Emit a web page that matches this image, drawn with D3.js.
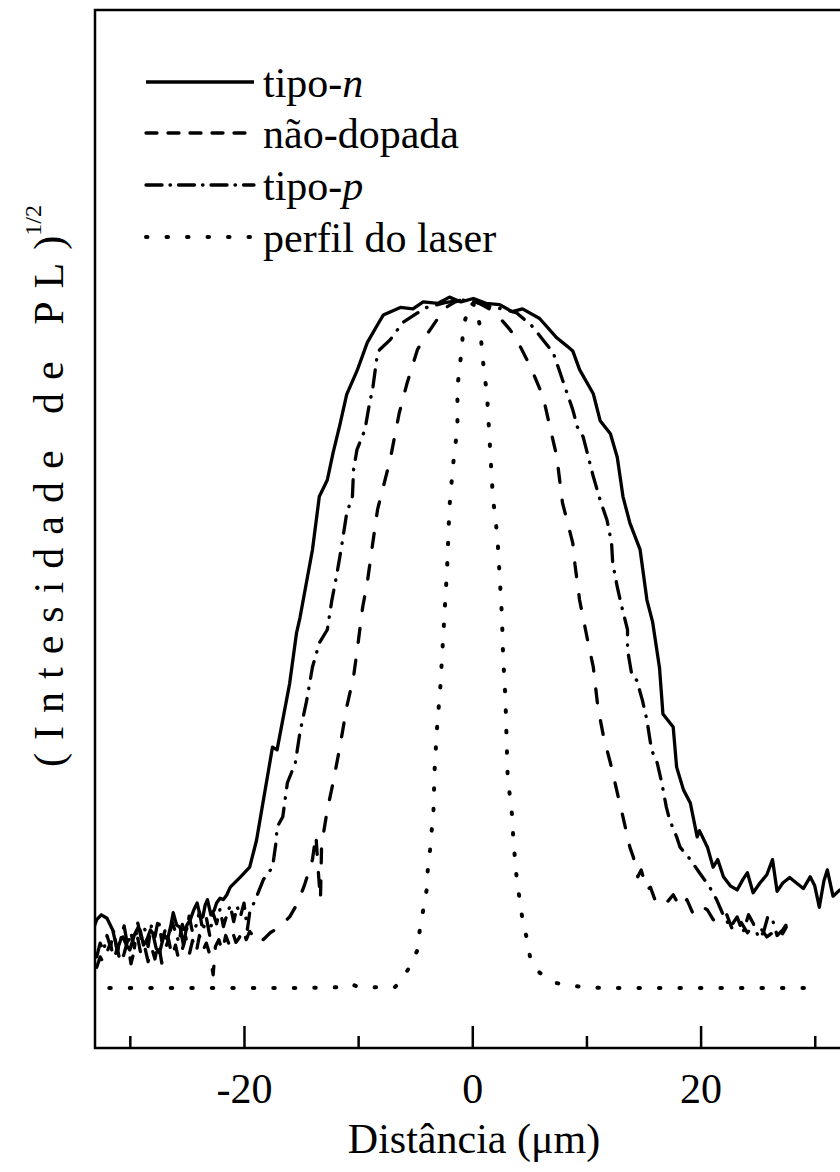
<!DOCTYPE html>
<html lang="pt">
<head>
<meta charset="UTF-8">
<title>Perfil de PL</title>
<script src="https://cdn.jsdelivr.net/npm/d3@7"></script>
<style>
  body { margin: 0; padding: 0; background: #fff; }
  svg { display: block; font-family: "Liberation Serif", "Times New Roman", serif; }
</style>
</head>
<body>
<svg id="chart" width="840" height="1172"></svg>
<script>
// distância (µm), intensidade^1/2 (u.a., 100 = topo)
const tipoN = [
  [-33.1, 9.0], [-32.9, 9.9], [-32.5, 10.6], [-32.0, 10.1], [-31.5, 8.4], [-31.1, 5.5], [-30.8, 7.0],
  [-30.6, 7.4], [-30.3, 6.2], [-30.0, 5.5], [-29.6, 7.7], [-29.3, 8.7], [-29.1, 8.4], [-28.8, 6.2],
  [-28.5, 7.0], [-28.2, 8.4], [-28.0, 8.0], [-27.7, 5.8], [-27.4, 5.1], [-27.0, 7.7], [-26.7, 7.0],
  [-26.4, 9.1], [-26.2, 10.9], [-25.9, 9.1], [-25.6, 8.8], [-25.3, 6.2], [-25.0, 9.1], [-24.7, 9.9],
  [-24.4, 11.3], [-24.1, 12.3], [-23.8, 10.1], [-23.6, 10.3], [-23.4, 12.0], [-23.2, 12.8], [-22.9, 10.6],
  [-22.6, 11.3], [-22.4, 12.3], [-22.1, 13.0], [-21.8, 12.8], [-21.5, 13.5], [-21.2, 14.6], [-20.3, 16.1],
  [-19.5, 17.5], [-18.9, 21.4], [-18.3, 27.2], [-17.5, 34.9], [-17.1, 34.5], [-16.0, 44.1], [-15.4, 51.4],
  [-15.1, 53.6], [-14.0, 63.5], [-13.4, 71.2], [-12.7, 73.6], [-12.2, 77.5], [-11.6, 81.6], [-11.0, 86.0],
  [-10.1, 89.4], [-9.2, 93.5], [-8.3, 96.1], [-7.8, 97.5], [-6.3, 98.6], [-5.2, 98.4], [-4.3, 99.4],
  [-3.0, 99.2], [-2.0, 100.1], [-1.0, 99.4], [0.1, 99.9], [1.2, 99.2], [2.4, 99.0], [3.5, 98.0],
  [4.4, 98.4], [5.9, 97.0], [7.4, 94.2], [8.3, 93.0], [8.8, 92.3], [9.4, 89.6], [10.6, 86.1], [11.2, 82.2],
  [12.1, 80.3], [12.7, 76.9], [13.2, 71.2], [13.8, 67.4], [14.7, 63.5], [15.3, 56.2], [15.8, 53.0],
  [16.4, 46.4], [16.7, 39.7], [17.6, 37.8], [17.9, 32.0], [18.5, 28.7], [19.1, 26.8], [19.7, 21.9],
  [19.9, 22.8], [20.6, 20.4], [21.1, 17.5], [21.5, 18.6], [22.0, 16.1], [22.6, 14.8], [23.2, 14.2],
  [23.7, 15.7], [24.1, 16.7], [24.6, 13.8], [25.2, 15.2], [25.8, 16.4], [26.3, 18.6], [26.7, 14.0],
  [27.2, 15.2], [27.8, 16.0], [28.4, 15.2], [29.0, 14.4], [29.6, 16.1], [30.0, 14.8], [30.4, 11.7],
  [30.8, 15.5], [31.1, 17.1], [31.6, 13.3], [32.2, 14.2]
];

const naoDopada = [
  [-32.9, 3.0], [-32.6, 4.5], [-32.3, 3.6], [-32.0, 5.2], [-31.7, 6.5], [-31.4, 4.0], [-31.1, 5.8],
  [-30.8, 3.4], [-30.5, 5.0], [-30.2, 6.8], [-29.9, 3.5], [-29.6, 5.5], [-29.3, 7.2], [-29.0, 4.6],
  [-28.7, 6.0], [-28.4, 3.8], [-28.1, 5.9], [-27.8, 4.2], [-27.5, 6.6], [-27.2, 3.6], [-26.9, 5.7],
  [-26.6, 7.0], [-26.3, 4.5], [-26.0, 6.2], [-25.7, 4.0], [-25.4, 5.6], [-25.1, 7.4], [-24.8, 4.8],
  [-24.5, 6.9], [-24.2, 5.0], [-23.9, 7.6], [-23.6, 5.4], [-23.3, 6.5], [-23.0, 4.9], [-22.7, 1.9],
  [-22.5, 6.0], [-22.2, 7.0], [-21.9, 5.3], [-21.6, 7.6], [-21.3, 6.3], [-21.0, 8.1], [-20.7, 6.6],
  [-20.4, 7.3], [-20.1, 8.6], [-19.8, 7.0], [-19.5, 8.2], [-19.2, 7.5], [-18.9, 8.0], [-18.6, 7.2],
  [-18.3, 7.0], [-17.7, 8.0], [-16.9, 8.8], [-16.0, 10.3], [-15.3, 12.3], [-14.7, 14.9], [-14.0, 18.6],
  [-13.7, 22.2], [-13.5, 17.1], [-13.3, 12.8], [-13.2, 20.7], [-12.7, 25.8], [-12.2, 29.7], [-11.6, 34.9],
  [-11.0, 40.7], [-10.4, 45.1], [-10.0, 50.0], [-9.6, 55.2], [-9.2, 58.7], [-8.8, 63.5], [-8.3, 69.3],
  [-7.2, 76.5], [-6.4, 83.3], [-5.7, 87.7], [-4.8, 92.5], [-4.3, 93.9], [-3.1, 96.8], [-2.6, 98.3],
  [-1.5, 99.4], [-0.6, 99.9], [0.4, 99.4], [1.6, 98.3], [2.4, 97.1], [3.3, 95.4], [3.9, 93.9], [5.1, 90.0],
  [6.2, 85.7], [6.8, 81.3], [7.4, 77.0], [7.9, 70.3], [8.8, 64.5], [9.0, 61.3], [9.4, 56.2], [10.1, 50.4],
  [10.6, 46.5], [11.0, 40.7], [11.5, 36.4], [12.1, 32.6], [12.7, 28.3], [13.2, 24.8], [13.8, 20.4],
  [14.1, 19.0], [14.5, 16.1], [14.8, 17.1], [15.3, 14.2], [15.6, 14.6], [16.0, 12.8], [16.4, 13.2],
  [17.0, 12.3], [17.6, 13.5], [18.2, 11.7], [18.8, 12.8], [19.3, 10.9], [19.9, 12.0], [20.6, 11.3],
  [21.1, 9.9], [21.7, 9.4], [22.3, 10.6], [22.8, 8.4], [23.4, 9.9], [24.1, 8.0], [24.6, 9.1], [25.2, 8.8],
  [25.8, 7.4], [26.3, 8.0], [26.9, 7.0], [27.5, 8.8]
];

const tipoP = [
  [-32.9, 4.5], [-32.6, 6.5], [-32.3, 5.4], [-32.0, 7.6], [-31.7, 6.0], [-31.4, 8.3], [-31.1, 5.2],
  [-30.8, 7.0], [-30.5, 9.0], [-30.2, 6.2], [-29.9, 8.0], [-29.6, 5.8], [-29.3, 9.4], [-29.0, 7.2],
  [-28.7, 8.6], [-28.4, 6.0], [-28.1, 9.1], [-27.8, 7.4], [-27.5, 10.0], [-27.2, 6.8], [-26.9, 8.4],
  [-26.6, 7.0], [-26.3, 9.6], [-26.0, 8.1], [-25.7, 6.6], [-25.4, 9.2], [-25.1, 7.8], [-24.8, 10.4],
  [-24.5, 8.0], [-24.2, 9.0], [-23.9, 11.0], [-23.6, 8.3], [-23.3, 10.2], [-23.0, 7.6], [-22.7, 10.8],
  [-22.4, 9.3], [-22.1, 11.4], [-21.8, 8.9], [-21.5, 10.6], [-21.2, 12.0], [-20.9, 9.6], [-20.6, 11.8],
  [-20.3, 10.4], [-20.0, 12.3], [-19.7, 8.5], [-19.5, 10.9], [-18.9, 13.2], [-18.3, 15.7], [-17.5, 17.5],
  [-17.2, 21.0], [-17.1, 23.3], [-16.6, 24.8], [-16.2, 29.7], [-15.5, 32.6], [-15.1, 37.0], [-14.5, 41.7],
  [-14.0, 46.5], [-13.4, 50.0], [-12.7, 51.9], [-12.3, 56.2], [-11.9, 59.6], [-11.6, 62.5], [-11.4, 64.5],
  [-11.0, 68.8], [-10.5, 71.2], [-10.4, 75.1], [-10.1, 78.0], [-9.4, 80.9], [-9.1, 83.8], [-8.7, 87.1],
  [-8.3, 92.0], [-8.1, 92.5], [-7.2, 93.9], [-6.1, 96.4], [-4.8, 97.8], [-4.0, 98.6], [-2.4, 99.3],
  [-0.9, 99.7], [0.2, 99.4], [1.6, 98.7], [2.9, 98.3], [3.9, 97.8], [5.3, 95.8], [6.2, 93.9], [7.1, 92.0],
  [7.7, 89.1], [8.3, 86.2], [8.8, 83.8], [9.2, 81.3], [9.7, 79.9], [10.0, 78.0], [10.6, 74.1], [11.2, 70.7],
  [11.8, 67.8], [12.2, 64.5], [12.3, 61.6], [12.7, 58.1], [13.1, 55.2], [13.6, 51.9], [13.6, 49.0],
  [14.0, 45.1], [14.4, 44.6], [14.9, 41.7], [15.3, 38.8], [15.7, 34.5], [16.2, 32.6], [16.6, 29.7],
  [17.0, 26.2], [17.3, 24.3], [17.9, 21.9], [18.2, 20.4], [19.1, 18.6], [19.9, 16.7], [20.8, 14.6],
  [21.4, 12.8], [21.9, 10.9], [22.6, 8.8], [23.2, 10.3], [23.7, 8.0], [24.2, 10.6], [24.6, 9.4],
  [25.1, 7.2], [25.5, 8.0], [25.9, 10.4], [26.3, 9.9], [26.7, 7.6], [27.2, 8.4], [27.6, 9.4]
];

const perfilLaser = [
  [-31.8, 0], [-23.9, 0], [-15.1, 0], [-11.6, 0.1], [-10.7, 0.6], [-9.9, 0.1], [-6.8, 0.1], [-6.4, 0.7],
  [-5.5, 3.0], [-4.8, 5.5], [-4.6, 8.4], [-4.3, 11.3], [-4.0, 14.2], [-3.9, 17.1], [-3.7, 20.0],
  [-3.4, 25.8], [-3.3, 31.6], [-3.1, 37.4], [-2.8, 43.6], [-2.6, 49.4], [-2.4, 55.2], [-2.2, 61.0],
  [-2.0, 69.7], [-1.7, 75.5], [-1.3, 81.3], [-1.3, 87.1], [-1.1, 90.0], [-0.9, 92.9], [-0.8, 95.8],
  [-0.2, 99.3], [0.4, 98.7], [0.7, 95.4], [0.9, 91.4], [1.3, 85.7], [1.6, 77.0], [1.8, 71.2], [2.2, 65.4],
  [2.4, 59.6], [2.6, 53.8], [2.7, 48.0], [2.9, 42.2], [3.0, 36.4], [3.1, 30.6], [3.5, 24.8], [3.6, 21.4],
  [3.9, 15.7], [4.4, 9.9], [4.8, 7.0], [5.1, 4.1], [5.9, 2.2], [7.4, 0.7], [9.7, 0.1], [11.5, 0],
  [19.9, 0], [29.6, 0]
];

const seriesNames = ["tipo-", "não-dopada", "tipo-", "perfil do laser"];
const seriesItalic = ["n", "", "p", ""];
const xMajorTicks = [-20, 0, 20];
const xMinorTicks = [-30, -10, 10, 30];

const svg = d3.select("#chart");
const plotLeft = 95, plotTop = 10, plotRight = 849, plotBottom = 1048;

const x = d3.scaleLinear().domain([-33.05, 33.0]).range([plotLeft, plotRight]);
const y = d3.scaleLinear().domain([-8.7, 141.7]).range([plotBottom, plotTop]);

svg.append("defs").append("clipPath").attr("id", "clip")
  .append("rect").attr("x", plotLeft).attr("y", plotTop)
  .attr("width", plotRight - plotLeft).attr("height", plotBottom - plotTop);

const line = d3.line().x(d => x(d[0])).y(d => y(d[1]));

const styles = [
  { data: tipoN, dash: null, legendDash: null },
  { data: naoDopada, dash: "14,18", legendDash: "11,11" },
  { data: tipoP, dash: "17,10,0.5,10", legendDash: "16,8,0.5,8" },
  { data: perfilLaser, dash: "1.5,19", legendDash: "1.5,19" }
];

const plot = svg.append("g").attr("clip-path", "url(#clip)");
styles.forEach(s => {
  plot.append("path")
    .datum(s.data)
    .attr("d", line)
    .attr("fill", "none")
    .attr("stroke", "#000")
    .attr("stroke-width", s.data === perfilLaser ? 4 : 3.3)
    .attr("stroke-linecap", "round")
    .attr("stroke-linejoin", "round")
    .attr("stroke-dasharray", s.dash);
});

// moldura
svg.append("rect")
  .attr("x", plotLeft).attr("y", plotTop)
  .attr("width", plotRight - plotLeft).attr("height", plotBottom - plotTop)
  .attr("fill", "none").attr("stroke", "#000").attr("stroke-width", 2.5);

// eixo x, ticks para dentro
const xAxis = svg.append("g").attr("transform", `translate(0,${plotBottom})`)
  .call(d3.axisBottom(x).tickValues(xMajorTicks).tickSize(-22).tickPadding(25).tickFormat(d => String(d)));
xAxis.select(".domain").remove();
xAxis.selectAll(".tick line").attr("stroke-width", 2.5);
xAxis.selectAll(".tick text")
  .attr("font-family", "Liberation Serif").attr("font-size", 42).attr("fill", "#000");

const xMinor = svg.append("g").attr("transform", `translate(0,${plotBottom})`)
  .call(d3.axisBottom(x).tickValues(xMinorTicks).tickSize(-12).tickFormat(""));
xMinor.select(".domain").remove();
xMinor.selectAll(".tick line").attr("stroke-width", 2.5);

svg.append("text")
  .attr("x", 474).attr("y", 1153)
  .attr("text-anchor", "middle")
  .attr("font-size", 42)
  .text("Distância (μm)");

// eixo y
const yLab = svg.append("text")
  .attr("transform", "translate(63,767) rotate(-90)")
  .attr("font-size", 42);
yLab.append("tspan").attr("letter-spacing", 13).text("(Intesidade de PL");
yLab.append("tspan").text(")");
yLab.append("tspan").attr("font-size", 24).attr("dy", -22).text("1/2");

// legenda
const legendY = [82, 133, 185, 237];
const legend = svg.append("g");
styles.forEach((s, i) => {
  legend.append("line")
    .attr("x1", 146).attr("x2", 254)
    .attr("y1", legendY[i]).attr("y2", legendY[i])
    .attr("stroke", "#000")
    .attr("stroke-width", i === 3 ? 4 : 3.3)
    .attr("stroke-linecap", i === 0 ? "butt" : "round")
    .attr("stroke-dasharray", s.legendDash);
  const t = legend.append("text")
    .attr("x", 263).attr("y", legendY[i] + 15)
    .attr("font-size", 42);
  t.append("tspan").text(seriesNames[i]);
  if (seriesItalic[i]) t.append("tspan").attr("font-style", "italic").text(seriesItalic[i]);
});
</script>
</body>
</html>
